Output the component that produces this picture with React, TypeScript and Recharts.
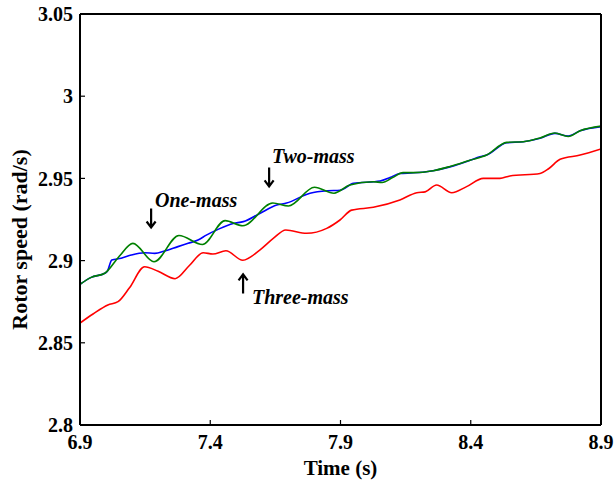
import React from 'react';
import {
  LineChart,
  Line,
  XAxis,
  YAxis,
  ReferenceDot,
} from 'recharts';

// time (s) / rotor speed (rad/s) samples for each drive-train model
const oneMassT = [6.9, 6.943, 6.995, 7.005, 7.022, 7.058, 7.097, 7.148, 7.187, 7.225, 7.276, 7.315, 7.353, 7.385, 7.43, 7.488, 7.527, 7.59, 7.655, 7.693, 7.783, 7.85, 7.898, 7.95, 8.052, 8.09, 8.128, 8.18, 8.256, 8.32, 8.397, 8.435, 8.461, 8.538, 8.602, 8.666, 8.723, 8.774, 8.82, 8.9];
const oneMassV = [2.8856, 2.8898, 2.8923, 2.8935, 2.9004, 2.9014, 2.9034, 2.9048, 2.9044, 2.9058, 2.9085, 2.9105, 2.9125, 2.9155, 2.919, 2.9226, 2.9237, 2.9287, 2.9338, 2.935, 2.941, 2.9425, 2.9428, 2.947, 2.9484, 2.9505, 2.953, 2.9534, 2.9547, 2.957, 2.961, 2.9632, 2.9642, 2.9717, 2.9723, 2.9744, 2.9774, 2.9758, 2.979, 2.9815];

const twoMassT = [6.9, 6.943, 6.995, 7.05, 7.103, 7.184, 7.28, 7.37, 7.457, 7.525, 7.64, 7.7, 7.8, 7.875, 7.936, 8.026, 8.06, 8.1, 8.14, 8.18, 8.256, 8.32, 8.397, 8.461, 8.538, 8.602, 8.666, 8.723, 8.774, 8.82, 8.9];
const twoMassV = [2.8856, 2.8898, 2.8923, 2.9025, 2.9105, 2.8993, 2.9153, 2.9098, 2.9243, 2.9212, 2.935, 2.9332, 2.9446, 2.941, 2.946, 2.948, 2.9475, 2.9505, 2.9535, 2.9535, 2.9547, 2.9572, 2.961, 2.9642, 2.9719, 2.9723, 2.9746, 2.9776, 2.9755, 2.979, 2.9818];

const threeMassT = [6.9, 6.95, 7.007, 7.046, 7.09, 7.148, 7.2, 7.265, 7.32, 7.373, 7.41, 7.46, 7.525, 7.59, 7.642, 7.69, 7.77, 7.847, 7.898, 7.943, 8.026, 8.128, 8.193, 8.225, 8.269, 8.327, 8.384, 8.448, 8.512, 8.55, 8.666, 8.7, 8.743, 8.82, 8.9];
const threeMassV = [2.862, 2.8675, 2.873, 2.875, 2.8835, 2.8963, 2.8935, 2.889, 2.897, 2.9048, 2.904, 2.906, 2.9002, 2.9064, 2.9135, 2.9186, 2.9166, 2.9196, 2.9247, 2.9307, 2.9324, 2.9369, 2.9413, 2.9418, 2.946, 2.9413, 2.945, 2.95, 2.95, 2.9515, 2.953, 2.956, 2.9616, 2.9642, 2.9679];

const timeTicks = [6.9, 7.4, 7.9, 8.4, 8.9];
const speedTicks = [2.8, 2.85, 2.9, 2.95, 3, 3.05];

// annotation labels and their arrows, in data coordinates
const noteText = ['One-mass', 'Two-mass', 'Three-mass'];
const noteT = [7.188, 7.637, 7.56];
const noteV = [2.9369, 2.9636, 2.8779];
const arrowDir = [1, 1, -1]; // 1 points down, -1 points up
const arrowT = [7.173, 7.626, 7.526];
const arrowV = [2.9259, 2.9509, 2.8858];

const zip = (t: number[], v: number[]) => t.map((x, i) => ({ t: x, v: v[i] }));

const serif = 'Liberation Serif, Times New Roman, serif';
const tickFont = { fill: '#000', fontSize: 20, fontWeight: 'bold', fontFamily: serif };
const noTick = () => <g />;

const noteLabel = (text: string) => (props: any) => {
  const { viewBox } = props;
  return (
    <text
      x={viewBox.x + viewBox.width / 2}
      y={viewBox.y + viewBox.height / 2}
      dominantBaseline="central"
      fontFamily={serif}
      fontStyle="italic"
      fontWeight="bold"
      fontSize={20}
      fill="#000"
    >
      {text}
    </text>
  );
};

// vertical arrow centred on the reference point
const arrowShape = (dir: number) => (props: any) => {
  const { cx, cy } = props;
  const tip = cy + dir * 9.5;
  const back = tip - dir * 6;
  return (
    <path
      d={`M${cx},${cy - dir * 9.5}L${cx},${tip}M${cx - 4.5},${back}L${cx},${tip}L${cx + 4.5},${back}`}
      stroke="#000"
      strokeWidth={2.2}
      fill="none"
    />
  );
};

const yLabel = (props: any) => {
  const { viewBox } = props;
  const cx = 27;
  const cy = viewBox.y + viewBox.height / 2 + 20;
  return (
    <text
      x={cx}
      y={cy}
      transform={`rotate(-90 ${cx} ${cy})`}
      textAnchor="middle"
      fontFamily={serif}
      fontWeight="bold"
      fontSize={22}
      fill="#000"
    >
      Rotor speed (rad/s)
    </text>
  );
};

export default function App() {
  return (
    <div style={{ position: 'fixed', left: 0, top: 0, background: '#fff' }}>
      <LineChart width={614} height={482} margin={{ top: 0, right: 0, bottom: 0, left: 0 }}>
        <XAxis
          type="number"
          dataKey="t"
          domain={[6.9, 8.9]}
          ticks={timeTicks}
          allowDataOverflow
          height={57}
          tick={tickFont}
          tickSize={-5}
          tickMargin={15}
          axisLine={{ stroke: '#000', strokeWidth: 2 }}
          tickLine={{ stroke: '#000', strokeWidth: 1.2 }}
          label={{
            value: 'Time (s)',
            position: 'insideBottom',
            offset: 7,
            fill: '#000',
            fontSize: 21,
            fontWeight: 'bold',
            fontFamily: serif,
          }}
        />
        <XAxis
          xAxisId="top"
          orientation="top"
          type="number"
          dataKey="t"
          domain={[6.9, 8.9]}
          ticks={timeTicks}
          height={14}
          tick={noTick}
          tickSize={-5}
          axisLine={{ stroke: '#000', strokeWidth: 2 }}
          tickLine={{ stroke: '#000', strokeWidth: 1.2 }}
        />
        <YAxis
          type="number"
          domain={[2.8, 3.05]}
          ticks={speedTicks}
          allowDataOverflow
          width={80}
          tick={tickFont}
          tickSize={-5}
          tickMargin={12}
          axisLine={{ stroke: '#000', strokeWidth: 2 }}
          tickLine={{ stroke: '#000', strokeWidth: 1.2 }}
          label={{ content: yLabel }}
        />
        <YAxis
          yAxisId="right"
          orientation="right"
          type="number"
          domain={[2.8, 3.05]}
          ticks={speedTicks}
          width={13}
          tick={noTick}
          tickSize={-5}
          axisLine={{ stroke: '#000', strokeWidth: 2 }}
          tickLine={{ stroke: '#000', strokeWidth: 1.2 }}
        />
        <Line
          data={zip(threeMassT, threeMassV)}
          dataKey="v"
          type="monotone"
          stroke="#ff0000"
          strokeWidth={1.6}
          dot={false}
          isAnimationActive={false}
        />
        <Line
          data={zip(oneMassT, oneMassV)}
          dataKey="v"
          type="monotone"
          stroke="#0000ff"
          strokeWidth={1.6}
          dot={false}
          isAnimationActive={false}
        />
        <Line
          data={zip(twoMassT, twoMassV)}
          dataKey="v"
          type="monotone"
          stroke="#008000"
          strokeWidth={1.6}
          dot={false}
          isAnimationActive={false}
        />
        {noteText.map((s, i) => (
          <ReferenceDot
            key={s}
            x={noteT[i]}
            y={noteV[i]}
            r={1}
            fill="none"
            stroke="none"
            label={{ content: noteLabel(s) }}
          />
        ))}
        {arrowDir.map((d, i) => (
          <ReferenceDot
            key={'a' + i}
            x={arrowT[i]}
            y={arrowV[i]}
            r={1}
            shape={arrowShape(d)}
          />
        ))}
      </LineChart>
    </div>
  );
}
